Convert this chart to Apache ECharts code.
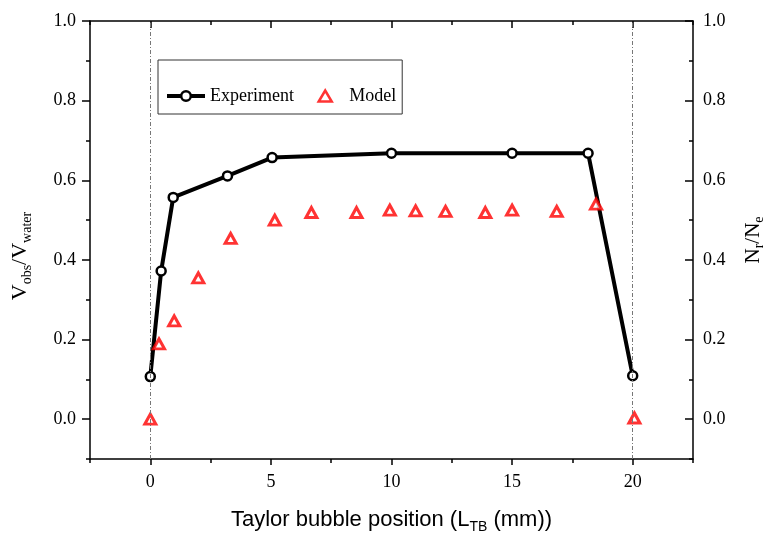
<!DOCTYPE html>
<html>
<head>
<meta charset="utf-8">
<script src="https://cdn.jsdelivr.net/npm/echarts@6/dist/echarts.min.js"></script>
<style>html,body{margin:0;padding:0;background:#fff;}#c{width:768px;height:536px;}</style>
</head>
<body>
<div id="c"></div>
<script>
// Data
var expX = [0, 0.45, 0.95, 3.2, 5.05, 10, 15, 18.15, 20];
var expY = [0.107, 0.372, 0.557, 0.611, 0.657, 0.668, 0.668, 0.668, 0.109];
var modelX = [0, 0.36, 0.99, 1.99, 3.33, 5.16, 6.68, 8.55, 9.93, 11.0, 12.24, 13.89, 15.0, 16.85, 18.48, 20.07];
var modelY = [0.0, 0.189, 0.247, 0.355, 0.454, 0.50, 0.519, 0.519, 0.525, 0.523, 0.522, 0.519, 0.525, 0.522, 0.540, 0.003];
var xTicks = [0, 5, 10, 15, 20];
var xMinorTicks = [-2.5, 2.5, 7.5, 12.5, 17.5, 22.5];
var yTicks = [0, 0.2, 0.4, 0.6, 0.8, 1.0];
var yMinorTicks = [-0.1, 0.1, 0.3, 0.5, 0.7, 0.9];
var refLinesX = [0, 20];
var seriesNames = ['Experiment', 'Model'];

function zip(a, b) { return a.map(function (v, i) { return [v, b[i]]; }); }

var serif = 'Liberation Serif';
var sans = 'Liberation Sans';
var XMIN = -2.5, XMAX = 22.5, YMIN = -0.1, YMAX = 1.0;
// legend icon for the triangle: invisible corner moves keep the box 38x12, so the triangle is not stretched
var triIcon = 'path://M0,0M38,0M38,12M0,12M12.5,11.5L19,0.5L25.5,11.5Z';

function xAx(pos, values, len, inside, showLine, extra) {
  var a = {
    type: 'value', position: pos, min: XMIN, max: XMAX,
    axisLine: { show: showLine, onZero: false, lineStyle: { color: '#000', width: 1.5 } },
    axisTick: { show: true, customValues: values, inside: inside, length: len, lineStyle: { color: '#000', width: 1.5 } },
    axisLabel: { show: false },
    splitLine: { show: false }
  };
  return Object.assign(a, extra || {});
}
function yAx(pos, values, len, inside, showLine, extra) {
  var a = {
    type: 'value', position: pos, min: YMIN, max: YMAX,
    axisLine: { show: showLine, onZero: false, lineStyle: { color: '#000', width: 1.5 } },
    axisTick: { show: true, customValues: values, inside: inside, length: len, lineStyle: { color: '#000', width: 1.5 } },
    axisLabel: { show: false },
    splitLine: { show: false }
  };
  return Object.assign(a, extra || {});
}

var chart = echarts.init(document.getElementById('c'), null, { renderer: 'canvas' });
chart.setOption({
  animation: false,
  backgroundColor: '#fff',
  grid: { left: 90, right: 75, top: 21, bottom: 77, containLabel: false, outerBoundsMode: 'none' },
  legend: {
    left: 158, top: 60,
    orient: 'horizontal',
    data: [{ name: seriesNames[0] }, { name: seriesNames[1], icon: triIcon }],
    itemWidth: 38, itemHeight: 12, itemGap: 11,
    padding: [27, 6, 9, 7],
    borderColor: '#333', borderWidth: 1,
    textStyle: { fontFamily: serif, fontSize: 18, color: '#000' },
    lineStyle: { width: 4 },
    itemStyle: { borderWidth: 2.5 },
    selectedMode: false
  },
  xAxis: [
    xAx('bottom', xTicks, 6, false, true, {
      axisLabel: { show: true, customValues: xTicks, margin: 14, fontFamily: serif, fontSize: 18, color: '#000',
        formatter: function (v) { return String(v); } },
      name: '{a|Taylor bubble position (L}{b|TB}{a| (mm))}',
      nameLocation: 'middle', nameGap: 47,
      nameTextStyle: {
        rich: {
          a: { fontFamily: sans, fontSize: 22, color: '#000', lineHeight: 28 },
          b: { fontFamily: sans, fontSize: 14, color: '#000', lineHeight: 14, verticalAlign: 'bottom' }
        }
      }
    }),
    xAx('bottom', xMinorTicks, 4, false, false),
    xAx('top', xTicks, 7, true, true),
    xAx('top', xMinorTicks, 4, true, false)
  ],
  yAxis: [
    yAx('left', yTicks, 8, false, true, {
      axisLabel: { show: true, customValues: yTicks, margin: 14, fontFamily: serif, fontSize: 18, color: '#000',
        formatter: function (v) { return v.toFixed(1); } },
      name: '{a|V}{b|obs}{a|/V}{b|water}',
      nameLocation: 'middle', nameGap: 56, nameRotate: 90,
      nameTextStyle: {
        padding: [0, 32, 0, 0],
        rich: {
          a: { fontFamily: serif, fontSize: 22, color: '#000', lineHeight: 28 },
          b: { fontFamily: serif, fontSize: 14, color: '#000', lineHeight: 14, verticalAlign: 'bottom' }
        }
      }
    }),
    yAx('left', yMinorTicks, 4, false, false),
    yAx('right', yTicks, 8, true, true, {
      axisLabel: { show: true, customValues: yTicks, margin: 10, fontFamily: serif, fontSize: 18, color: '#000',
        formatter: function (v) { return v.toFixed(1); } },
      name: '{a|N}{b|r}{a|/N}{b|e}',
      nameLocation: 'middle', nameGap: 47, nameRotate: 90,
      nameTextStyle: {
        rich: {
          a: { fontFamily: serif, fontSize: 21, color: '#000', lineHeight: 26 },
          b: { fontFamily: serif, fontSize: 14, color: '#000', lineHeight: 14, verticalAlign: 'bottom' }
        }
      }
    }),
    yAx('right', yMinorTicks, 4, true, false)
  ],
  series: [
    {
      name: seriesNames[0], type: 'line', xAxisIndex: 0, yAxisIndex: 0,
      data: zip(expX, expY),
      symbol: 'circle', symbolSize: 9,
      itemStyle: { color: '#fff', borderColor: '#000', borderWidth: 2.5 },
      lineStyle: { color: '#000', width: 4 },
      z: 3,
      markLine: {
        silent: true, symbol: ['none', 'none'],
        label: { show: false },
        lineStyle: { color: '#777', width: 1, type: [4, 2, 1, 2] },
        data: refLinesX.map(function (v) { return { xAxis: v }; })
      }
    },
    {
      name: seriesNames[1], type: 'scatter', xAxisIndex: 0, yAxisIndex: 0,
      data: zip(modelX, modelY),
      symbol: 'triangle', symbolSize: [11, 10], symbolKeepAspect: true,
      itemStyle: { color: '#fff', borderColor: '#ff0000', borderWidth: 3 },
      z: 4
    }
  ]
});
</script>
</body>
</html>
